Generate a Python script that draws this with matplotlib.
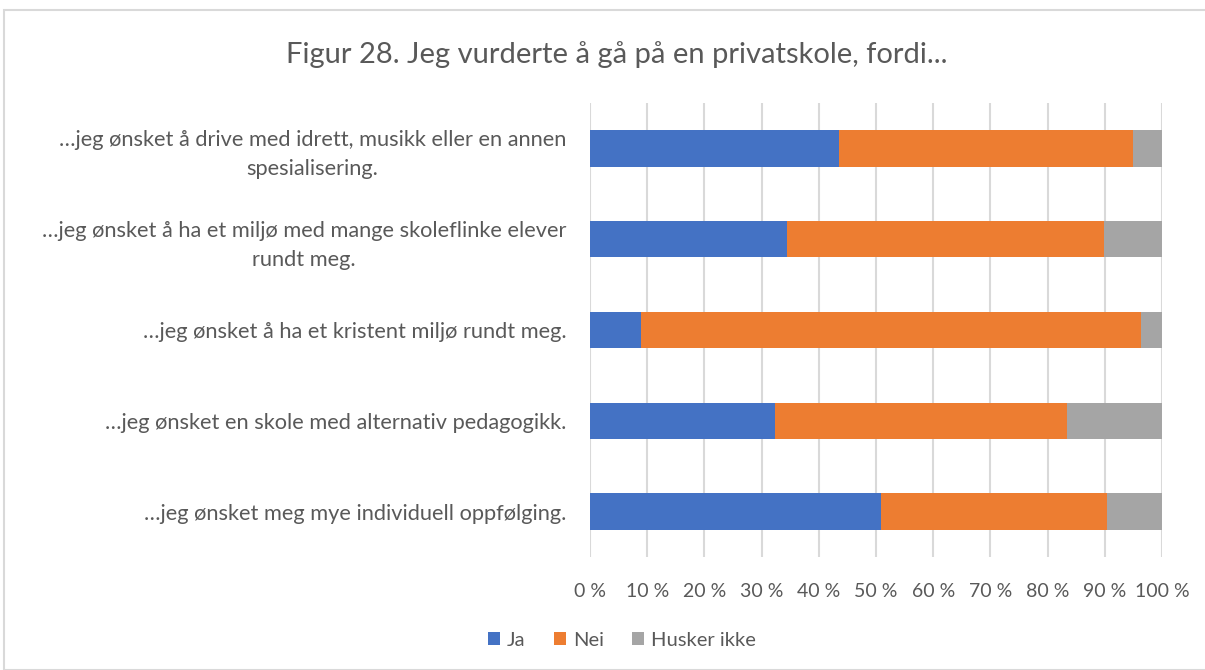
import matplotlib
matplotlib.use("Agg")
import matplotlib.pyplot as plt
from matplotlib.patches import Rectangle, Patch
import numpy as np

categories = [
    "…jeg ønsket å drive med idrett, musikk eller en annen\nspesialisering.",
    "…jeg ønsket å ha et miljø med mange skoleflinke elever\nrundt meg.",
    "…jeg ønsket å ha et kristent miljø rundt meg.",
    "…jeg ønsket en skole med alternativ pedagogikk.",
    "…jeg ønsket meg mye individuell oppfølging.",
]
ja = [43.5, 34.4, 9.0, 32.4, 50.8]
nei = [51.4, 55.4, 87.4, 51.0, 39.5]
husker = [5.1, 10.2, 3.6, 16.6, 9.7]
series_names = ["Ja", "Nei", "Husker ikke"]
colors = ["#4472C4", "#ED7D31", "#A5A5A5"]
ticks = list(range(0, 101, 10))
tick_labels = [f"{t} %" for t in ticks]

plt.rcParams['font.family'] = ['Lato', 'DejaVu Sans']
text_color = "#595959"

fig = plt.figure(figsize=(12.05, 6.7), dpi=100)
ax = fig.add_axes([590/1205, 1-557/670, (1162-590)/1205, (557-103)/670])

y = np.arange(len(categories))
left = np.zeros(len(categories))
for vals, name, c in zip([ja, nei, husker], series_names, colors):
    ax.barh(y, vals, left=left, height=0.4, color=c, label=name, zorder=3)
    left = left + np.array(vals)

ax.set_ylim(len(categories) - 0.5, -0.5)
ax.set_xlim(0, 100)
ax.set_xticks(ticks)
ax.set_xticklabels(tick_labels, fontsize=14, color=text_color)
ax.set_yticks(y)
ax.set_yticklabels(categories, fontsize=15.7, color=text_color,
                   multialignment='center', linespacing=1.55)
ax.tick_params(axis='both', length=0)
ax.tick_params(axis='x', pad=19)
ax.tick_params(axis='y', pad=17)
ax.grid(axis='x', color="#D9D9D9", linewidth=1.5, zorder=0)
for s in ax.spines.values():
    s.set_visible(False)

fig.text(617/1205, 1-55/670, "Figur 28. Jeg vurderte å gå på en privatskole, fordi...",
         ha='center', va='center', fontsize=21, color=text_color)

handles = [Patch(facecolor=c, edgecolor='none') for c in colors]
leg = fig.legend(handles, series_names, loc='center', bbox_to_anchor=(622/1205, 1-640/670),
                 ncol=3, frameon=False, fontsize=14.5, handlelength=0.6, handleheight=0.6,
                 handletextpad=0.35, columnspacing=1.4)
for t in leg.get_texts():
    t.set_color(text_color)

fig.patches.append(Rectangle((4/1205, 0), 1.2, 1-10/670, transform=fig.transFigure,
                             fill=False, edgecolor="#D9D9D9", linewidth=1.5))

fig.savefig("out.png", dpi=100)
